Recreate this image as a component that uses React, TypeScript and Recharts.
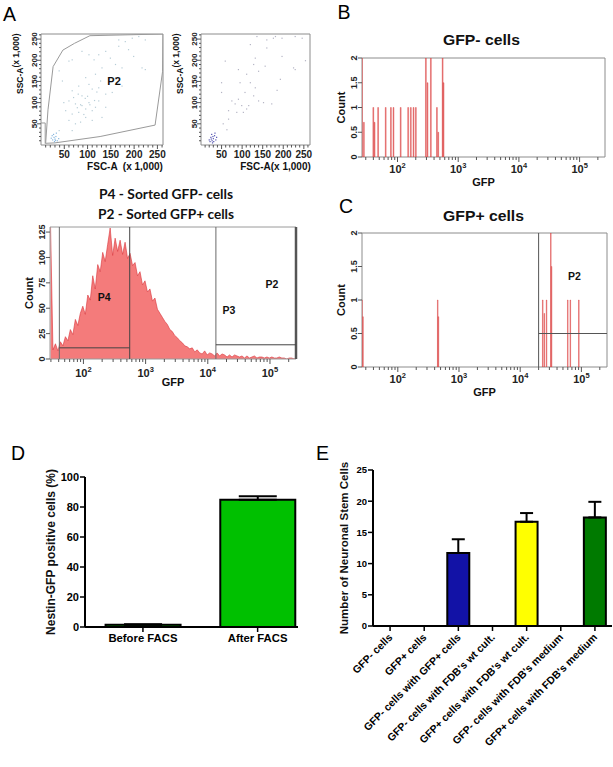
import React from 'react';
import {
  ComposedChart, ScatterChart, Scatter, Area, Bar, XAxis, YAxis, ErrorBar, Cell,
  ReferenceArea, ReferenceLine, ReferenceDot, Label,
} from 'recharts';

const FONT = '"Liberation Sans", Arial, Helvetica, sans-serif';
const TITLE_FONT = 'Lato, "Open Sans", sans-serif';

// ---------- A: FSC-A / SSC-A dot plots (x 1,000) ----------
const allCellsDots: [number, number][] = [
  [60, 198], [67, 201], [88, 221], [103, 213], [114, 201], [124, 213], [139, 221], [149, 205],
  [167, 248], [181, 244], [196, 252], [210, 256], [224, 248], [167, 233], [188, 225], [199, 209],
  [217, 182], [224, 178], [160, 190], [174, 182], [131, 182], [117, 167], [96, 159], [103, 143],
  [81, 139], [67, 128], [88, 116], [110, 132], [124, 135], [139, 120], [153, 124], [174, 139],
  [60, 104], [49, 100], [74, 97], [88, 93], [96, 85], [103, 100], [110, 81], [117, 89],
  [124, 104], [81, 77], [67, 73], [96, 65], [60, 58], [74, 50], [85, 54], [67, 34],
  [110, 58], [131, 65], [39, 34], [53, 81], [139, 89], [46, 151], [39, 175], [160, 159],
  [146, 151], [128, 151], [95, 110], [105, 95], [115, 105], [80, 120], [100, 115], [120, 125],
  [85, 95], [78, 88], [92, 72], [70, 112],
];
const allCellsDebris: [number, number][] = [
  [25, 12], [28, 18], [30, 14], [32, 20], [27, 25], [35, 10], [22, 16], [33, 28], [38, 15],
  [29, 8], [24, 22], [31, 11],
];
const sortedDots: [number, number][] = [
  [136, 256], [176, 252], [181, 256], [160, 248], [197, 252], [229, 256], [246, 252], [120, 237],
  [160, 229], [197, 209], [254, 199], [59, 198], [132, 205], [156, 186], [128, 190], [91, 178],
  [111, 167], [140, 174], [229, 178], [225, 182], [95, 147], [120, 147], [50, 147], [132, 135],
  [185, 129], [193, 155], [107, 124], [50, 124], [128, 116], [91, 108], [75, 104], [83, 97],
  [99, 93], [116, 93], [140, 104], [152, 100], [172, 97], [67, 81], [87, 77], [103, 77],
  [111, 85], [67, 61], [63, 36], [54, 50],
];
const sortedDebris: [number, number][] = [
  [20, 12], [24, 18], [27, 10], [30, 15], [33, 22], [26, 25], [36, 12], [29, 20], [22, 8],
  [38, 18], [31, 8], [25, 14], [34, 28], [28, 5],
];
const p2GateVertices: [number, number][] = [
  [10, 4], [15, 83], [26, 185], [47, 224], [72, 240], [105, 258], [262, 262], [261, 173],
  [245, 47], [127, 20], [30, 5], [10, 4],
];
const debrisGateVertices: [number, number][] = [[0, 52], [9, 52], [9, 3]];
const scatterTicks = [10, 20, 30, 40, 50, 60, 70, 80, 90, 100, 110, 120, 130, 140, 150, 160, 170, 180, 190, 200, 210, 220, 230, 240, 250, 260];
const scatterTickLabels = [50, 100, 150, 200, 250];

// ---------- A: GFP histogram of all cells (bins of 0.04 decades from 10^1.47) ----------
const histLogStart = 1.47;
const histLogStep = 0.04;
const histAllCounts = [
  135, 9, 15, 8, 17, 13, 22, 18, 29, 24,
  39, 33, 45, 52, 44, 63, 58, 82, 69, 93,
  86, 105, 96, 113, 129, 102, 119, 106, 117, 103,
  115, 99, 104, 92, 95, 82, 86, 73, 77, 66,
  69, 57, 60, 49, 45, 41, 37, 34, 29, 27,
  23, 21, 18, 16, 13, 12, 10, 11, 7, 9,
  6, 5, 8, 4, 6, 5, 3, 6, 3, 5,
  4, 2, 4, 2, 4, 3, 2, 3, 1, 3,
  1, 2, 3, 1, 2, 2, 1, 2, 1, 2,
  1, 1, 2, 1, 1, 0, 1, 1, 0, 1,
];
const histCountTicks = [0, 25, 50, 75, 100, 125];

// ---------- B / C: sorted populations, GFP events ----------
const gfpNegEventsGfp = [26, 28, 40, 42, 48, 64, 78, 86, 113, 150, 166, 184, 201, 294, 313, 355, 447, 470, 555, 575];
const gfpNegEventsCount = [2, 0.7, 1, 0.7, 1, 1, 1, 1, 1, 1, 1, 1, 1, 2, 1.5, 2, 1, 0.5, 2, 1.5];
const gfpPosEventsGfp = [26, 27, 450, 462, 23400, 24800, 27000, 31700, 32600, 60000, 66000, 91000];
const gfpPosEventsCount = [1, 0.75, 1, 0.75, 1, 0.8, 1, 2, 1.5, 1, 1, 1];
const smallCountTicks = [0, 0.5, 1, 1.5, 2];

const gfpDecades = [100, 1000, 10000, 100000];
const gfpMinorTicks = [
  30, 40, 50, 60, 70, 80, 90, 200, 300, 400, 500, 600, 700, 800, 900,
  2000, 3000, 4000, 5000, 6000, 7000, 8000, 9000, 20000, 30000, 40000, 50000,
  60000, 70000, 80000, 90000, 200000,
];
const gfpTicks = [...gfpDecades, ...gfpMinorTicks].sort((a, b) => a - b);
const GFP_MAX = 262143;

// ---------- D ----------
const facsGroups = ['Before FACS', 'After FACS'];
const nestinPositive = [1.5, 84.8];
const nestinSem = [0.4, 2.3];
const nestinTicks = [0, 20, 40, 60, 80, 100];

// ---------- E ----------
const nscGroups = [
  'GFP- cells',
  'GFP+ cells',
  'GFP- cells with GFP+ cells',
  "GFP- cells with FDB's wt cult.",
  "GFP+ cells with FDB's wt cult.",
  "GFP- cells with FDB's medium",
  "GFP+ cells with FDB's medium",
];
const nscCounts = [0, 0, 11.7, 0, 16.7, 0, 17.4];
const nscSem = [0, 0, 2.2, 0, 1.4, 0, 2.5];
const nscColors = ['#1212a6', '#1212a6', '#1212a6', '#ffff00', '#ffff00', '#007a00', '#007a00'];
const nscTicks = [0, 5, 10, 15, 20, 25];

const histAll = histAllCounts.map((count, i) => ({ gfp: Math.pow(10, histLogStart + i * histLogStep), count }));
const gfpNegEvents = gfpNegEventsGfp.map((gfp, i) => ({ gfp, count: gfpNegEventsCount[i] }));
const gfpPosEvents = gfpPosEventsGfp.map((gfp, i) => ({ gfp, count: gfpPosEventsCount[i] }));
const toXY = (pts: [number, number][]) => pts.map(([x, y]) => ({ x, y }));
const facsData = facsGroups.map((name, i) => ({ pos: i, name, value: nestinPositive[i], err: [0, nestinSem[i]] }));
const nscData = nscGroups.map((name, i) => ({ name, value: nscCounts[i], err: [0, nscSem[i]] }));

// ---------- ticks & labels ----------
function LinXTick(props: any) {
  const { x, y, payload, labels, size = 10 } = props;
  const major = labels.includes(payload.value);
  return (
    <g>
      <line x1={x} x2={x} y1={y} y2={y + (major ? 4 : 2.5)} stroke="#555" />
      {major && (
        <text x={x} y={y + 13} textAnchor="middle" fontFamily={FONT} fontWeight="bold" fontSize={size} fill="#222">
          {payload.value}
        </text>
      )}
    </g>
  );
}

function RotYTick(props: any) {
  const { x, y, payload, labels, gap = 5, size = 8.5, len = 4, minorLen = 2 } = props;
  const v = payload.value;
  const major = !labels || labels.includes(v);
  const tx = x - gap;
  return (
    <g>
      <line x1={x} x2={x - (major ? len : minorLen)} y1={y} y2={y} stroke="#555" />
      {major && (
        <text x={tx} y={y} transform={`rotate(-90 ${tx} ${y})`} textAnchor="middle" fontFamily={FONT} fontWeight="bold" fontSize={size} fill="#222">
          {v}
        </text>
      )}
    </g>
  );
}

function LogTick(props: any) {
  const { x, y, payload, dy = 16 } = props;
  const v = payload.value;
  const major = gfpDecades.includes(v);
  return (
    <g>
      <line x1={x} x2={x} y1={y} y2={y + (major ? 5 : 3)} stroke="#555" />
      {major && (
        <text x={x} y={y + dy} textAnchor="middle" fontFamily={FONT} fontWeight="bold" fontSize={11} fill="#222">
          10<tspan dy={-5} fontSize={7.5}>{Math.round(Math.log10(v))}</tspan>
        </text>
      )}
    </g>
  );
}

function PrismYTick(props: any) {
  const { x, y, payload, size = 11 } = props;
  return (
    <g>
      <line x1={x} x2={x - 5} y1={y} y2={y} stroke="#000" strokeWidth={1.5} />
      <text x={x - 6} y={y + size * 0.36} textAnchor="end" fontFamily={FONT} fontWeight="bold" fontSize={size} fill="#000">
        {payload.value}
      </text>
    </g>
  );
}

function FacsXTick(props: any) {
  const { x, y, payload } = props;
  return (
    <g>
      <line x1={x} x2={x} y1={y} y2={y + 5} stroke="#000" strokeWidth={1.5} />
      <text x={x} y={y + 15} textAnchor="middle" fontFamily={FONT} fontWeight="bold" fontSize={11.3} fill="#000">
        {facsGroups[payload.value]}
      </text>
    </g>
  );
}

function SlantTick(props: any) {
  const { x, y, payload } = props;
  const ax = x + 3;
  const ay = y + 12;
  return (
    <g>
      <line x1={x} x2={x} y1={y} y2={y + 5} stroke="#000" strokeWidth={1.5} />
      <text x={ax} y={ay} transform={`rotate(-45 ${ax} ${ay})`} textAnchor="end" fontFamily={FONT} fontWeight="bold" fontSize={10.5} fill="#000">
        {payload.value}
      </text>
    </g>
  );
}

const xTitle = (text: string, dy: number, dx = 0, size = 11) => (p: any) => {
  const vb = p.viewBox;
  return (
    <text x={vb.x + vb.width / 2 + dx} y={vb.y + dy} textAnchor="middle" fontFamily={FONT} fontWeight="bold" fontSize={size} fill="#111" style={{ whiteSpace: 'pre' }}>
      {text}
    </text>
  );
};

const yTitle = (text: string, bx: number, size = 11, dy = 0) => (p: any) => {
  const vb = p.viewBox;
  const cx = vb.x + bx;
  const cy = vb.y + vb.height / 2 + dy;
  return (
    <text x={cx} y={cy} transform={`rotate(-90 ${cx} ${cy})`} textAnchor="middle" fontFamily={FONT} fontWeight="bold" fontSize={size} fill="#111">
      {text}
    </text>
  );
};

const sscTitle = (bx: number, startY: number) => (p: any) => {
  const vb = p.viewBox;
  const cx = vb.x + bx;
  const cy = startY;
  return (
    <text x={cx} y={cy} transform={`rotate(-90 ${cx} ${cy})`} textAnchor="start" fontFamily={FONT} fontWeight="bold" fontSize={8.5} fill="#111">
      SSC-A<tspan dy={-4}>(x 1,000)</tspan>
    </text>
  );
};

const tinyDot = (color: string) => (p: any) => (
  <rect x={p.cx - 0.6} y={p.cy - 0.6} width={1.2} height={1.2} fill={color} />
);
const noDot = () => <g />;

function FscSscPlot(props: any) {
  const { width, yAxisWidth, right, dots, debris, dotColor, debrisColor, xMax, xLabel, xLabelDx, showGate } = props;
  return (
    <ScatterChart width={width} height={180} margin={{ top: 34, right, bottom: 0, left: 0 }}>
      <XAxis type="number" dataKey="x" domain={[0, xMax]} allowDataOverflow ticks={scatterTicks} interval={0}
        tick={<LinXTick labels={scatterTickLabels} />} tickLine={false} axisLine={false} tickSize={0} tickMargin={0} height={35}>
        <Label content={xTitle(xLabel, 25, xLabelDx, 10)} />
      </XAxis>
      <YAxis type="number" dataKey="y" domain={[0, 262]} allowDataOverflow ticks={scatterTicks} interval={0}
        tick={<RotYTick labels={scatterTickLabels} gap={4} size={8} />} tickLine={false} axisLine={false} tickSize={0} tickMargin={0} width={yAxisWidth}>
        <Label content={sscTitle(yAxisWidth - 18, 94)} />
      </YAxis>
      <ReferenceArea x1={0} x2={xMax} y1={0} y2={262} fill="none" stroke="#8c8c8c" strokeWidth={1} />
      {showGate && (
        <Scatter data={toXY(p2GateVertices)} line={{ stroke: '#9a9a9a', strokeWidth: 1 }} shape={noDot} isAnimationActive={false} />
      )}
      {showGate && (
        <Scatter data={toXY(debrisGateVertices)} line={{ stroke: '#9a9a9a', strokeWidth: 1 }} shape={noDot} isAnimationActive={false} />
      )}
      <Scatter data={toXY(dots)} shape={tinyDot(dotColor)} isAnimationActive={false} />
      <Scatter data={toXY(debris)} shape={tinyDot(debrisColor)} isAnimationActive={false} />
      {showGate && (
        <ReferenceDot x={157} y={151} r={0} fill="none" stroke="none"
          label={{ value: 'P2', position: 'center', fontFamily: FONT, fontWeight: 'bold', fontSize: 11, fill: '#111' }} />
      )}
    </ScatterChart>
  );
}

function gateLabel(x: number, y: number, text: string) {
  return (
    <ReferenceDot key={text} x={x} y={y} r={0} fill="none" stroke="none"
      label={{ value: text, position: 'center', fontFamily: FONT, fontWeight: 'bold', fontSize: 10.5, fill: '#111' }} />
  );
}

function EventPlot(props: any) {
  const { height, top, right, data, gate } = props;
  return (
    <ComposedChart width={308} height={height} data={data} margin={{ top, right, bottom: 0, left: 0 }}>
      <XAxis type="number" dataKey="gfp" scale="log" domain={[26, GFP_MAX]} allowDataOverflow ticks={gfpTicks} interval={0}
        tick={<LogTick dy={16} />} tickLine={false} axisLine={false} tickSize={0} tickMargin={0} height={33}>
        <Label content={xTitle('GFP', 29, 0, 11)} />
      </XAxis>
      <YAxis type="number" domain={[0, 2]} allowDataOverflow ticks={smallCountTicks} interval={0}
        tick={<RotYTick gap={5} size={9} />} tickLine={false} axisLine={false} tickSize={0} tickMargin={0} width={57}>
        <Label content={yTitle('Count', 40, 11)} />
      </YAxis>
      <ReferenceArea x1={26} x2={GFP_MAX} y1={0} y2={2} fill="none" stroke="#8c8c8c" strokeWidth={1} />
      <Bar dataKey="count" barSize={2.5} fill="#e87575" stroke="#d83a3a" strokeWidth={0.4} isAnimationActive={false} />
      {gate && <ReferenceLine x={20000} stroke="#555" strokeWidth={1} />}
      {gate && <ReferenceLine segment={[{ x: 20000, y: 0.5 }, { x: GFP_MAX, y: 0.5 }]} stroke="#555" strokeWidth={1} />}
      {gate && gateLabel(77000, 1.35, 'P2')}
    </ComposedChart>
  );
}

export default function App() {
  const letter = { fontFamily: FONT, fontSize: 19.5, fill: '#000' } as const;
  const bold = { fontFamily: FONT, fontWeight: 'bold', fill: '#111' } as const;
  return (
    <div style={{ position: 'absolute', left: 0, top: 0, width: 613, height: 767, background: '#fff', overflow: 'hidden' }}>
      <svg width={613} height={767} style={{ position: 'absolute', left: 0, top: 0 }}>
        <text x={3} y={21} {...letter}>A</text>
        <text x={337.5} y={18.5} {...letter}>B</text>
        <text x={339} y={212.5} {...letter}>C</text>
        <text x={11} y={460} {...letter}>D</text>
        <text x={316} y={460} {...letter}>E</text>
        <text x={166} y={199} textAnchor="middle" fontFamily={TITLE_FONT} fontWeight="bold" fontSize={14} fill="#111" textLength={134} lengthAdjust="spacingAndGlyphs">
          P4 - Sorted GFP- cells
        </text>
        <text x={166} y={219} textAnchor="middle" fontFamily={TITLE_FONT} fontWeight="bold" fontSize={14} fill="#111" textLength={136} lengthAdjust="spacingAndGlyphs">
          P2 - Sorted GFP+ cells
        </text>
        <text x={481.5} y={45} textAnchor="middle" {...bold} fontSize={15} textLength={77} lengthAdjust="spacingAndGlyphs">GFP- cells</text>
        <text x={483.5} y={221} textAnchor="middle" {...bold} fontSize={15} textLength={81} lengthAdjust="spacingAndGlyphs">GFP+ cells</text>
      </svg>

      <div style={{ position: 'absolute', left: 0, top: 0 }}>
        <FscSscPlot width={175} yAxisWidth={41} right={12} dots={allCellsDots} debris={allCellsDebris}
          dotColor="#b6ccd6" debrisColor="#86b6de" xMax={262} xLabel="FSC-A  (x 1,000)" xLabelDx={23} showGate />
      </div>
      <div style={{ position: 'absolute', left: 150, top: 0 }}>
        <FscSscPlot width={170} yAxisWidth={51} right={10} dots={sortedDots} debris={sortedDebris}
          dotColor="#b4b4c4" debrisColor="#5454b0" xMax={265} xLabel="FSC-A(x 1,000)" xLabelDx={20} showGate={false} />
      </div>

      <div style={{ position: 'absolute', left: 0, top: 215 }}>
        <ComposedChart width={305} height={175} data={histAll} margin={{ top: 12, right: 9, bottom: 0, left: 0 }}>
          <XAxis type="number" dataKey="gfp" scale="log" domain={[29, GFP_MAX]} allowDataOverflow ticks={gfpTicks} interval={0}
            tick={<LogTick dy={18} />} tickLine={false} axisLine={false} tickSize={0} tickMargin={0} height={31}>
            <Label content={xTitle('GFP', 27, 0, 11)} />
          </XAxis>
          <YAxis type="number" domain={[0, 130]} allowDataOverflow ticks={histCountTicks} interval={0}
            tick={<RotYTick gap={5} size={9} />} tickLine={false} axisLine={false} tickSize={0} tickMargin={0} width={50}>
            <Label content={yTitle('Count', 33, 11)} />
          </YAxis>
          <Area type="linear" dataKey="count" fill="#f47b7b" fillOpacity={1} stroke="#d8343a" strokeWidth={0.6} isAnimationActive={false} />
          <ReferenceArea x1={29} x2={GFP_MAX} y1={0} y2={130} fill="none" stroke="#9a9a9a" strokeWidth={1} />
          <ReferenceLine x={41} stroke="#6a6a6a" strokeWidth={1} />
          <ReferenceLine x={555} stroke="#444" strokeWidth={1} />
          <ReferenceLine x={13500} stroke="#6a6a6a" strokeWidth={1} />
          <ReferenceLine x={GFP_MAX} stroke="#555" strokeWidth={2.5} />
          <ReferenceLine segment={[{ x: 41, y: 11 }, { x: 555, y: 11 }]} stroke="#444" strokeWidth={1} />
          <ReferenceLine segment={[{ x: 13500, y: 14 }, { x: GFP_MAX, y: 14 }]} stroke="#444" strokeWidth={1} />
          {gateLabel(215, 61, 'P4')}
          {gateLabel(21800, 48, 'P3')}
          {gateLabel(107000, 74, 'P2')}
        </ComposedChart>
      </div>

      <div style={{ position: 'absolute', left: 305, top: 30 }}>
        <EventPlot height={160} top={28} right={8} data={gfpNegEvents} gate={false} />
      </div>
      <div style={{ position: 'absolute', left: 305, top: 225 }}>
        <EventPlot height={175} top={8} right={6} data={gfpPosEvents} gate />
      </div>

      <div style={{ position: 'absolute', left: 0, top: 440 }}>
        <ComposedChart width={305} height={230} data={facsData} margin={{ top: 37, right: 7, bottom: 0, left: 0 }}>
          <XAxis type="number" dataKey="pos" domain={[-0.505, 1.352]} allowDataOverflow ticks={[0, 1]} interval={0}
            tick={<FacsXTick />} tickLine={false} tickSize={0} tickMargin={0} height={43}
            axisLine={{ stroke: '#000', strokeWidth: 2 }} />
          <YAxis type="number" domain={[0, 100]} ticks={nestinTicks} interval={0} tick={<PrismYTick size={11} />}
            tickLine={false} tickSize={0} tickMargin={0} width={85} axisLine={{ stroke: '#000', strokeWidth: 2 }}>
            <Label content={yTitle('Nestin-GFP positive cells (%)', 54.5, 12)} />
          </YAxis>
          <Bar dataKey="value" barSize={75} stroke="#000" strokeWidth={2} isAnimationActive={false}>
            {facsData.map((d) => <Cell key={d.name} fill="#00c000" />)}
            <ErrorBar dataKey="err" direction="y" width={19} stroke="#000" strokeWidth={2} />
          </Bar>
        </ComposedChart>
      </div>

      <div style={{ position: 'absolute', left: 305, top: 440 }}>
        <ComposedChart width={308} height={327} data={nscData} margin={{ top: 30, right: 1, bottom: 0, left: 0 }}>
          <XAxis dataKey="name" type="category" interval={0} tick={<SlantTick />} tickLine={false} tickSize={0} tickMargin={0}
            height={141} axisLine={{ stroke: '#000', strokeWidth: 2 }} />
          <YAxis type="number" domain={[0, 25]} ticks={nscTicks} interval={0} tick={<PrismYTick size={9.5} />}
            tickLine={false} tickSize={0} tickMargin={0} width={68} axisLine={{ stroke: '#000', strokeWidth: 2 }}>
            <Label content={yTitle('Number of Neuronal Stem Cells', 43, 11.5)} />
          </YAxis>
          <Bar dataKey="value" barSize={22} stroke="#000" strokeWidth={2} isAnimationActive={false}>
            {nscData.map((d, i) => <Cell key={d.name} fill={nscColors[i]} />)}
            <ErrorBar dataKey="err" direction="y" width={6.5} stroke="#000" strokeWidth={2} />
          </Bar>
        </ComposedChart>
      </div>
    </div>
  );
}
